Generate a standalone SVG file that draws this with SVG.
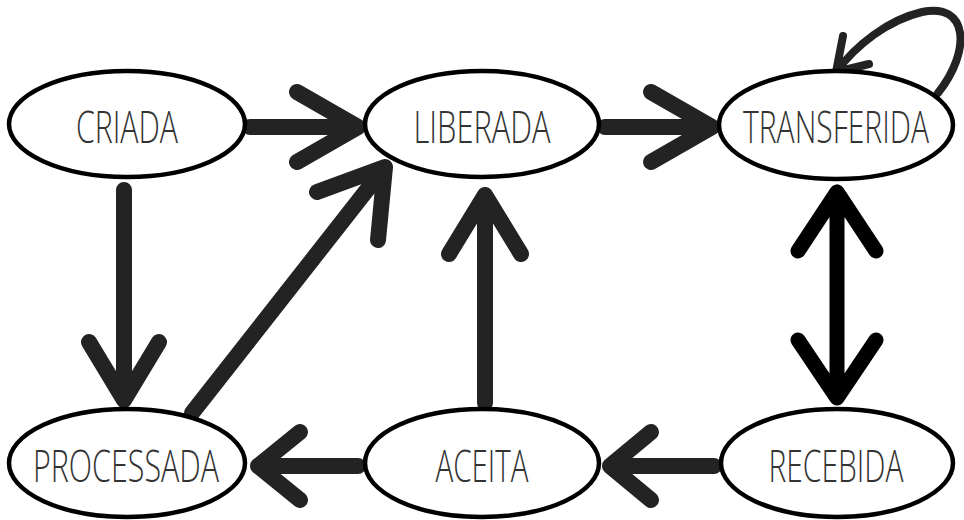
<svg xmlns="http://www.w3.org/2000/svg" width="964" height="520" viewBox="0 0 964 520">
  <style>
    .state ellipse { fill: #fff; stroke: #000; stroke-width: 4.5; }
    .state text { font-family: "Open Sans", "Liberation Sans", sans-serif; font-weight: 300; font-size: 45px; fill: #333; text-anchor: middle; }
    .edge { fill: none; stroke: #232323; stroke-width: 16; stroke-linecap: round; stroke-linejoin: round; }
    .edge.bold { stroke: #000; stroke-width: 15; }
    .edge.loop { stroke-width: 8; }
  </style>
  <rect width="964" height="520" fill="#fff"/>

  <g id="connectors">
    <!-- CRIADA -> LIBERADA -->
    <path class="edge" d="M250 127 H358 M297 92 L358 127 L297 162"/>
    <!-- LIBERADA -> TRANSFERIDA -->
    <path class="edge" d="M605 127 H712 M651 92 L712 127 L651 162"/>
    <!-- CRIADA -> PROCESSADA -->
    <path class="edge" d="M124 190 V400 M89 342 L124 400 L159 342"/>
    <!-- PROCESSADA -> LIBERADA -->
    <path class="edge" d="M192 413 L385 167 M317 192 L385 167 L378 240"/>
    <!-- ACEITA -> LIBERADA -->
    <path class="edge" d="M485 403 V195 M449 254 L485 195 L521 254"/>
    <!-- ACEITA -> PROCESSADA -->
    <path class="edge" d="M358 466 H258 M300 432 L258 466 L300 500"/>
    <!-- RECEBIDA -> ACEITA -->
    <path class="edge" d="M714 466 H610 M651 432 L610 466 L651 500"/>
    <!-- TRANSFERIDA <-> RECEBIDA -->
    <path class="edge bold" d="M837 192 V398 M798 251 L837 192 L876 251 M798 340 L837 398 L876 340"/>
    <!-- TRANSFERIDA self-loop -->
    <path class="edge loop" d="M938 93 C972 50 968 2 922 12 C888 20 856 45 836 72 M843 36 L836 72 L869 64"/>
  </g>

  <g id="criada" class="state">
    <ellipse cx="127" cy="124" rx="118" ry="53"/>
    <text x="127" y="143" textLength="102" lengthAdjust="spacingAndGlyphs">CRIADA</text>
  </g>
  <g id="liberada" class="state">
    <ellipse cx="482" cy="124" rx="117" ry="53"/>
    <text x="482" y="143" textLength="137" lengthAdjust="spacingAndGlyphs">LIBERADA</text>
  </g>
  <g id="transferida" class="state">
    <ellipse cx="836" cy="125" rx="117" ry="54"/>
    <text x="836" y="143" textLength="186" lengthAdjust="spacingAndGlyphs">TRANSFERIDA</text>
  </g>
  <g id="processada" class="state">
    <ellipse cx="127" cy="463" rx="118" ry="54"/>
    <text x="126" y="482" textLength="186" lengthAdjust="spacingAndGlyphs">PROCESSADA</text>
  </g>
  <g id="aceita" class="state">
    <ellipse cx="482" cy="463" rx="117" ry="54"/>
    <text x="482" y="482" textLength="93" lengthAdjust="spacingAndGlyphs">ACEITA</text>
  </g>
  <g id="recebida" class="state">
    <ellipse cx="837" cy="463" rx="116" ry="54"/>
    <text x="836" y="482" textLength="135" lengthAdjust="spacingAndGlyphs">RECEBIDA</text>
  </g>
</svg>
